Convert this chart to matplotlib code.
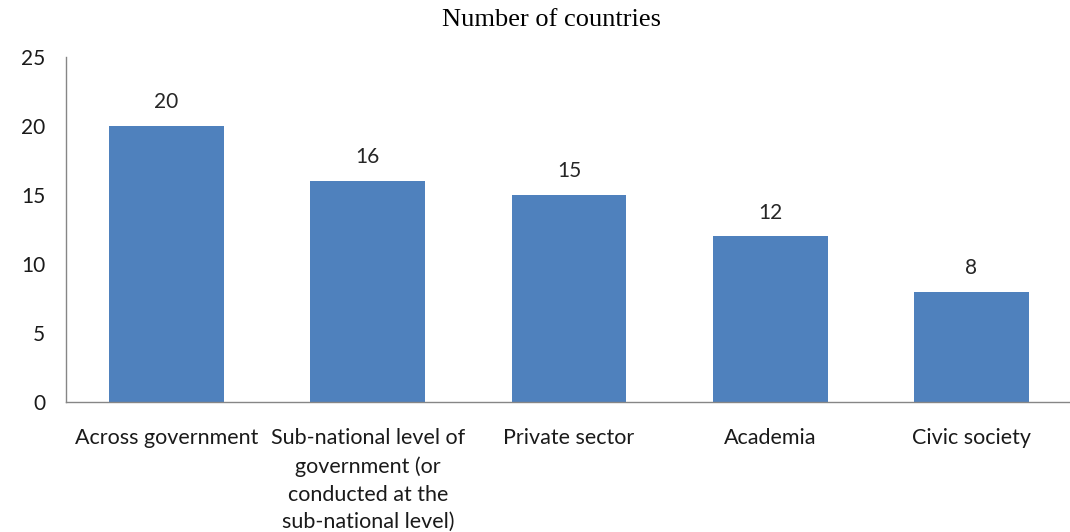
# Countries reporting each kind of cooperation

import numpy as np
import matplotlib.pyplot as plt

# Chart data
categories = ['Across government',
              'Sub-national level of\ngovernment (or\nconducted at the\nsub-national level)',
              'Private sector', 'Academia', 'Civic society']
counts = [20, 16, 15, 12, 8]
yticks = [0, 5, 10, 15, 20, 25]

plt.rcParams['font.family'] = ['Lato', 'DejaVu Sans']

fig = plt.figure(figsize=(10.7, 5.32), dpi=100)
ax = fig.add_axes([66 / 1070, 1 - 402 / 532, 1006 / 1070, 345 / 532])

x = np.arange(len(categories))
ax.bar(x, counts, width=0.57, color='#4F81BD')

# Value labels above bars
for xi, v in zip(x, counts):
    ax.text(xi, v + 1.0, str(v), ha='center', va='bottom', fontsize=15, color='#262626')

ax.set_xlim(-0.5, len(categories) - 0.5)
ax.set_ylim(0, 25)
ax.set_yticks(yticks)
ax.set_xticks(x)
ax.set_xticklabels(categories, fontsize=15.5, color='#1a1a1a', linespacing=1.48, va='top')
ax.tick_params(axis='y', length=0, pad=15, labelsize=15, labelcolor='#1a1a1a')
ax.tick_params(axis='x', length=0, pad=19)

for s in ['top', 'right']:
    ax.spines[s].set_visible(False)
for s in ['left', 'bottom']:
    ax.spines[s].set_color('#868686')
    ax.spines[s].set_linewidth(1.0)

fig.text(552 / 1070, 1 - 20 / 532, 'Number of countries', ha='center', va='center',
         fontsize=19, family='Liberation Serif')

fig.savefig('out.png', dpi=100)
